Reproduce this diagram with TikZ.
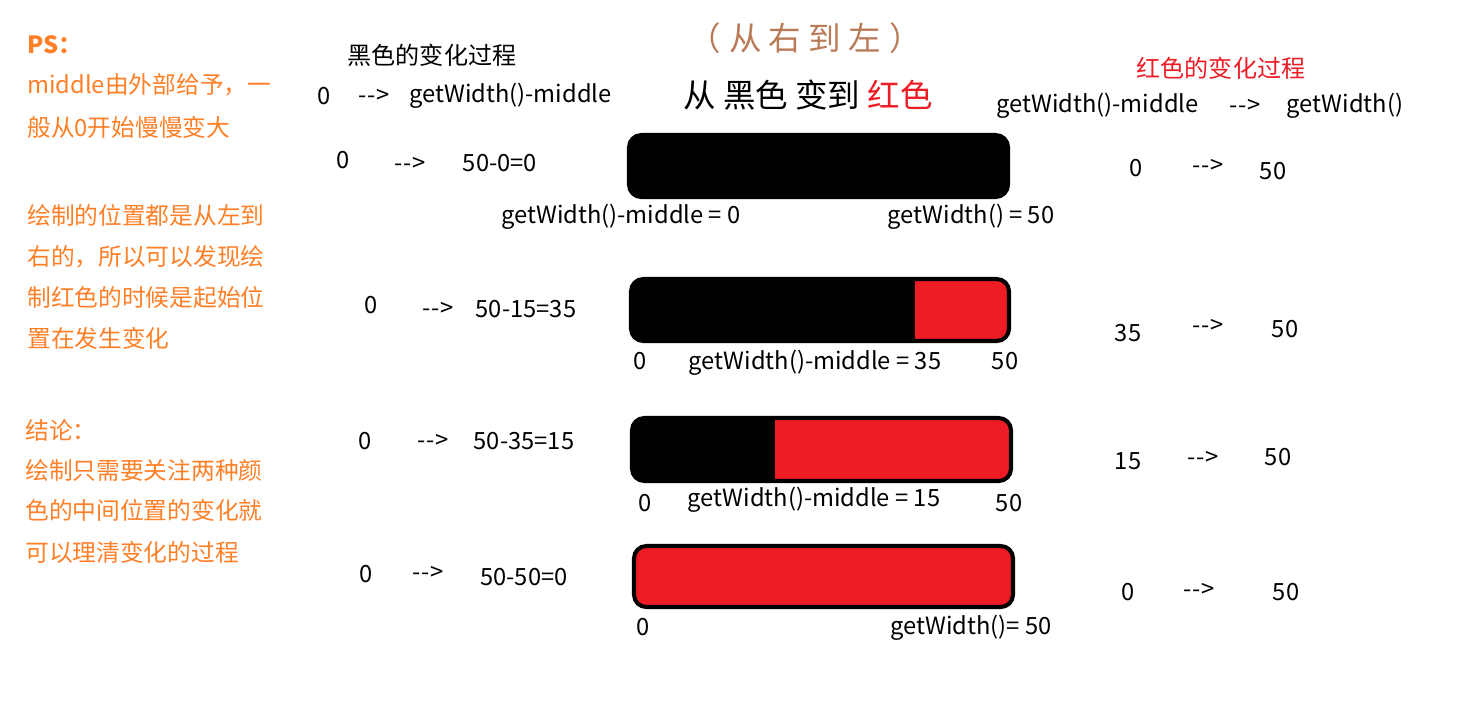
\documentclass[tikz,border=0pt]{standalone}
\usepackage{fontspec}
\setmainfont{Noto Sans CJK SC}
\usetikzlibrary{positioning}
\definecolor{note}{HTML}{FF7F27}
\definecolor{redbar}{HTML}{ED1C24}
\definecolor{brownish}{HTML}{B97A57}
\newcommand{\arr}{-\kern0.5pt-\kern0.5pt>}
\tikzset{
  every node/.style = {inner sep=0pt, font=\fontsize{13.5}{16}\selectfont, text=black},
  notetxt/.style    = {anchor=west, text=note},
  bigtxt/.style     = {font=\fontsize{18.5}{20}\selectfont},
  headtxt/.style    = {font=\fontsize{13.7}{15}\selectfont},
  barline/.style    = {draw=black, line width=2.3pt, rounded corners=7pt},
}
\begin{document}
\begin{tikzpicture}[x=0.02cm, y=-0.02cm]
\useasboundingbox (0,0) rectangle (1483,708);

% notes on the left
\node[notetxt, font=\fontsize{13.5}{16}\selectfont\bfseries] (ps) at (27,45) {PS：};
\node[notetxt] (n1) at (27,85)  {middle由外部给予，一};
\node[notetxt] (n2) at (27,127) {般从0开始慢慢变大};
\node[notetxt] (n3) at (27,215) {绘制的位置都是从左到};
\node[notetxt] (n4) at (27,257) {右的，所以可以发现绘};
\node[notetxt] (n5) at (27,297) {制红色的时候是起始位};
\node[notetxt] (n6) at (27,338) {置在发生变化};
\node[notetxt] (c0) at (25,430) {结论：};
\node[notetxt] (c1) at (25,470) {绘制只需要关注两种颜};
\node[notetxt] (c2) at (25,510) {色的中间位置的变化就};
\node[notetxt] (c3) at (25,552) {可以理清变化的过程};

% titles
\node[bigtxt, text=brownish] (dir) at (805,38)
  {（\hspace{5pt}从\hspace{4pt}右\hspace{4pt}到\hspace{4pt}左\hspace{5pt}）};
\node[bigtxt] (main) at (808,95) {从 黑色 变到 \textcolor{redbar}{红色}};
\node[headtxt] (blackhead) at (432,55) {黑色的变化过程};
\node[headtxt, text=redbar] (redhead) at (1221,68) {红色的变化过程};

\node (bl0) at (324,96) {0};
\node (bla) at (374,96) {\arr};
\node[anchor=west] (blw) at (409,96) {getWidth()-middle};
\node[anchor=west] (rdm) at (996,106) {getWidth()-middle};
\node (rda) at (1245,106) {\arr};
\node (rdw) at (1345,106) {getWidth()};

% the four bars
\foreach \n/\xa/\ya/\xb/\yb/\xm in {1/629/135/1008/197/1008, 2/631/279/1009/341/915,
                                    3/632/418/1011/481/775, 4/634/546/1013/607/634}{
  \begin{scope}
    \clip[rounded corners=7pt] (\xa,\ya) rectangle (\xb,\yb);
    \fill[black] (\xa,\ya) rectangle (\xb,\yb);
    \fill[redbar] (\xm,\ya) rectangle (\xb,\yb);
  \end{scope}
  \draw[barline] (\xa,\ya) rectangle (\xb,\yb);
  \coordinate (bar\n) at ({(\xa+\xb)/2},{(\ya+\yb)/2});
}

% row 1
\node (l1a) at (343,160) {0};
\node (l1b) at (410,164) {\arr};
\node (l1c) at (500,163) {50-0=0};
\node (u1a) at (621,217) {getWidth()-middle = 0};
\node (u1b) at (971,217) {getWidth() = 50};
\node (r1a) at (1136,168) {0};
\node (r1b) at (1208,166) {\arr};
\node (r1c) at (1273,171) {50};

% row 2
\node (l2a) at (371,305) {0};
\node (l2b) at (438,309) {\arr};
\node (l2c) at (526,309) {50-15=35};
\node (u2a) at (640,361) {0};
\node (u2b) at (815,363) {getWidth()-middle = 35};
\node (u2c) at (1005,361) {50};
\node (r2a) at (1128,333) {35};
\node (r2b) at (1208,326) {\arr};
\node (r2c) at (1285,329) {50};

% row 3
\node (l3a) at (365,441) {0};
\node (l3b) at (433,441) {\arr};
\node (l3c) at (524,441) {50-35=15};
\node (u3a) at (645,503) {0};
\node (u3b) at (814,500) {getWidth()-middle = 15};
\node (u3c) at (1009,503) {50};
\node (r3a) at (1128,461) {15};
\node (r3b) at (1203,458) {\arr};
\node (r3c) at (1278,457) {50};

% row 4
\node (l4a) at (366,574) {0};
\node (l4b) at (428,573) {\arr};
\node (l4c) at (524,577) {50-50=0};
\node (u4a) at (643,627) {0};
\node (u4b) at (971,628) {getWidth()= 50};
\node (r4a) at (1128,592) {0};
\node (r4b) at (1199,590) {\arr};
\node (r4c) at (1286,592) {50};
\end{tikzpicture}
\end{document}
